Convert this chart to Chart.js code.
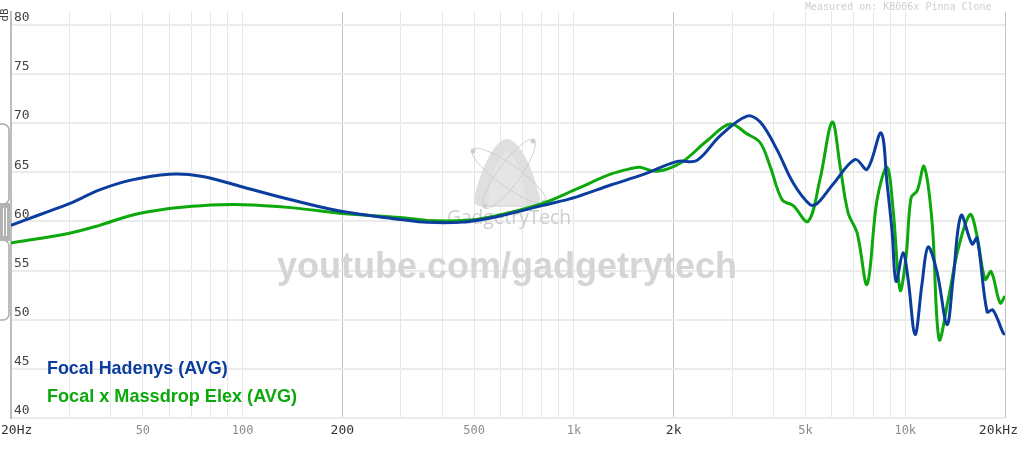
<!DOCTYPE html>
<html><head><meta charset="utf-8">
<script src="https://cdn.jsdelivr.net/npm/chart.js@4"></script>
<style>html,body{margin:0;padding:0;background:#fff;overflow:hidden}canvas{display:block}</style>
</head><body>
<canvas id="c" width="1023" height="456"></canvas>
<script>
// ---- data ----
const freqsHadenys = [20,24.5,30,37,46,60,75,100,140,200,300,360,450,570,800,1020,1290,1630,2050,2350,2760,3330,3650,4100,4590,5160,5420,6060,7060,7670,8450,8810,9130,9380,9850,10200,10710,11240,11720,12480,13370,13940,14740,15910,16470,17660,18380,19780,20000];
const splHadenys   = [59.6,60.7,61.8,63.2,64.2,64.8,64.6,63.5,62.2,61.0,60.2,59.9,59.9,60.4,61.6,62.5,63.7,64.8,66.1,66.2,68.7,70.7,70.1,67.3,63.9,61.7,61.8,63.8,66.3,65.3,69.0,63.9,58.9,53.9,56.8,54.1,48.5,53.7,57.4,54.8,49.5,54.1,60.6,57.7,58.3,50.8,51.0,48.6,48.5];
const freqsElex = [20,30,37,46,60,75,100,140,200,300,360,470,570,800,1020,1290,1500,1580,1780,2110,2520,2960,3330,3650,3910,4250,4590,5090,5530,6020,6360,6720,7160,7670,8220,8810,9190,9650,10060,10410,10860,11400,12050,12650,13470,14420,15690,16470,17420,18160,19330,20000];
const splElex   = [57.8,58.8,59.6,60.6,61.3,61.6,61.7,61.4,60.8,60.4,60.1,60.1,60.5,61.8,63.3,64.8,65.4,65.5,65.1,66.0,68.2,69.9,68.9,68.0,65.6,62.2,61.6,60.0,64.3,70.1,65.6,60.9,58.8,53.6,62.2,65.5,61.2,53.0,56.5,62.4,63.1,65.6,59.9,48.0,52.0,57.1,60.7,58.5,54.1,54.9,51.7,52.4];
const gridFreqs = [20,30,40,50,60,70,80,90,100,200,300,400,500,600,700,800,900,1000,2000,3000,4000,5000,6000,7000,8000,9000,10000,20000];
const majorFreqs = [20,200,2000,20000];
const xTickValues = [20,50,100,200,500,1000,2000,5000,10000,20000];
const xTickTexts  = ['20Hz','50','100','200','500','1k','2k','5k','10k','20kHz'];
const yTickValues = [40,45,50,55,60,65,70,75,80];
const seriesNames = ['Focal Hadenys (AVG)','Focal x Massdrop Elex (AVG)'];

const BLUE = '#0b3d9e', GREEN = '#0ca80c';
const toPts = (f, v) => f.map((x, i) => ({x: x, y: v[i]}));
const majorSet = new Set(majorFreqs);

function roundRectPath(ctx, x, y, w, h, r) {
  ctx.beginPath();
  ctx.moveTo(x + r, y);
  ctx.arcTo(x + w, y, x + w, y + h, r);
  ctx.arcTo(x + w, y + h, x, y + h, r);
  ctx.arcTo(x, y + h, x, y, r);
  ctx.arcTo(x, y, x + w, y, r);
  ctx.closePath();
}

const deco = {
  id: 'deco',
  beforeDatasetsDraw(chart) {
    const ctx = chart.ctx;
    ctx.save();
    // logo: rounded triangle (bell-like)
    ctx.beginPath();
    ctx.moveTo(486, 207);
    ctx.quadraticCurveTo(470, 207, 475, 194);
    ctx.quadraticCurveTo(484, 160, 496, 146);
    ctx.quadraticCurveTo(507, 132, 518, 146);
    ctx.quadraticCurveTo(530, 160, 539, 194);
    ctx.quadraticCurveTo(544, 207, 528, 207);
    ctx.closePath();
    ctx.fillStyle = '#dfdfdf';
    ctx.fill();
    ctx.beginPath();
    ctx.moveTo(488, 205);
    ctx.quadraticCurveTo(490, 165, 507, 150);
    ctx.quadraticCurveTo(524, 165, 526, 205);
    ctx.closePath();
    ctx.fillStyle = '#e5e5e5'; ctx.fill();
    // orbits
    ctx.strokeStyle = '#cfcfcf'; ctx.lineWidth = 1;
    ctx.beginPath(); ctx.ellipse(509,176,45,11,35.7*Math.PI/180,0,Math.PI*2); ctx.stroke();
    ctx.beginPath(); ctx.ellipse(509,174,42,11,126*Math.PI/180,0,Math.PI*2); ctx.stroke();
    ctx.fillStyle = '#cfcfcf';
    [[473,151],[533,141],[485,206],[544,202]].forEach(p => { ctx.beginPath(); ctx.arc(p[0],p[1],2.5,0,Math.PI*2); ctx.fill(); });
    // GadgetryTech text
    ctx.fillStyle = '#cdcdcd';
    ctx.textAlign = 'center'; ctx.textBaseline = 'middle';
    let fs = 24;
    ctx.font = fs + 'px "Open Sans", "Liberation Sans", sans-serif';
    let w = ctx.measureText('GadgetryTech').width;
    fs = fs * 124 / w;
    ctx.font = fs.toFixed(1) + 'px "Open Sans", "Liberation Sans", sans-serif';
    ctx.fillText('GadgetryTech', 509, 219);
    // youtube text
    fs = 34;
    ctx.font = 'bold ' + fs + 'px "Liberation Sans", Arial, sans-serif';
    w = ctx.measureText('youtube.com/gadgetrytech').width;
    fs = fs * 460 / w;
    ctx.font = 'bold ' + fs.toFixed(1) + 'px "Liberation Sans", Arial, sans-serif';
    ctx.fillStyle = '#d5d5d5';
    ctx.fillText('youtube.com/gadgetrytech', 507, 268);
    ctx.restore();
  },
  afterDraw(chart) {
    const ctx = chart.ctx;
    const xs = chart.scales.x;
    ctx.save();
    // x tick labels
    ctx.textBaseline = 'middle';
    xTickValues.forEach((v, i) => {
      const major = majorSet.has(v);
      ctx.font = (major ? '13px' : '12px') + ' "DejaVu Sans Mono", monospace';
      ctx.fillStyle = major ? '#333333' : '#8c8c8c';
      let x = xs.getPixelForValue(v);
      if (i === 0) { ctx.textAlign = 'left'; x = 1; }
      else if (i === xTickValues.length - 1) { ctx.textAlign = 'right'; x = 1018; }
      else ctx.textAlign = 'center';
      ctx.fillText(xTickTexts[i], x, 431);
    });
    // dB label
    ctx.save();
    ctx.translate(5.5, 15);
    ctx.rotate(-Math.PI / 2);
    ctx.font = '11px "DejaVu Sans Mono", monospace';
    ctx.fillStyle = '#444';
    ctx.textAlign = 'center'; ctx.textBaseline = 'middle';
    ctx.fillText('dB', 0, 0);
    ctx.restore();
    // measured on
    ctx.font = '10px "DejaVu Sans Mono", monospace';
    ctx.fillStyle = '#cfcfcf';
    ctx.textAlign = 'left'; ctx.textBaseline = 'middle';
    ctx.fillText('Measured on: KB006x Pinna Clone', 805, 7);
    // legend
    const fits = [181, 250];
    [BLUE, GREEN].forEach((col, i) => {
      let f = 17;
      ctx.font = 'bold ' + f + 'px "Liberation Sans", Arial, sans-serif';
      const mw = ctx.measureText(seriesNames[i]).width;
      f = f * fits[i] / mw;
      ctx.font = 'bold ' + f.toFixed(1) + 'px "Liberation Sans", Arial, sans-serif';
      ctx.fillStyle = col;
      ctx.textAlign = 'left'; ctx.textBaseline = 'alphabetic';
      ctx.fillText(seriesNames[i], 47, i === 0 ? 374 : 402);
    });
    // left scroll handle
    ctx.strokeStyle = '#a9a9a9'; ctx.lineWidth = 1.5;
    roundRectPath(ctx, -8, 124, 17, 80, 6); ctx.stroke();
    roundRectPath(ctx, -8, 240, 17, 80, 6); ctx.stroke();
    ctx.fillStyle = '#b3b3b3';
    ctx.fillRect(0, 203, 10, 38);
    ctx.strokeStyle = '#ffffff'; ctx.lineWidth = 1;
    [3.5, 6.5].forEach(x => { ctx.beginPath(); ctx.moveTo(x, 208); ctx.lineTo(x, 236); ctx.stroke(); });
    ctx.restore();
  }
};

new Chart(document.getElementById('c').getContext('2d'), {
  type: 'line',
  data: {
    datasets: [
      {label: seriesNames[0], data: toPts(freqsHadenys, splHadenys), borderColor: BLUE, borderWidth: 3, pointRadius: 0, tension: 0.35, fill: false},
      {label: seriesNames[1], data: toPts(freqsElex, splElex), borderColor: GREEN, borderWidth: 3, pointRadius: 0, tension: 0.35, fill: false}
    ]
  },
  options: {
    responsive: false, animation: false, devicePixelRatio: 1,
    layout: {padding: {left: 11, right: 18, top: 12, bottom: 0}},
    plugins: {legend: {display: false}, tooltip: {enabled: false}},
    scales: {
      x: {
        type: 'logarithmic', min: 20, max: 20000,
        afterBuildTicks: s => { s.ticks = gridFreqs.map(v => ({value: v})); },
        afterFit: s => { s.height = 38; },
        ticks: {display: false},
        grid: {color: c => (c.tick && majorSet.has(c.tick.value)) ? '#c2c2c2' : '#e6e6e6', lineWidth: 1, drawTicks: false},
        border: {display: false}
      },
      y: {
        type: 'linear', min: 40, max: 81.3,
        afterBuildTicks: s => { s.ticks = yTickValues.map(v => ({value: v})); },
        afterFit: s => { s.width = 0; },
        ticks: {mirror: true, padding: 3, labelOffset: -7, color: '#444', font: {family: '"DejaVu Sans Mono", monospace', size: 13}},
        grid: {color: '#ebebeb', lineWidth: 2, drawTicks: false},
        border: {display: true, color: '#bdbdbd', width: 2}
      }
    }
  },
  plugins: [deco]
});
</script></body></html>
